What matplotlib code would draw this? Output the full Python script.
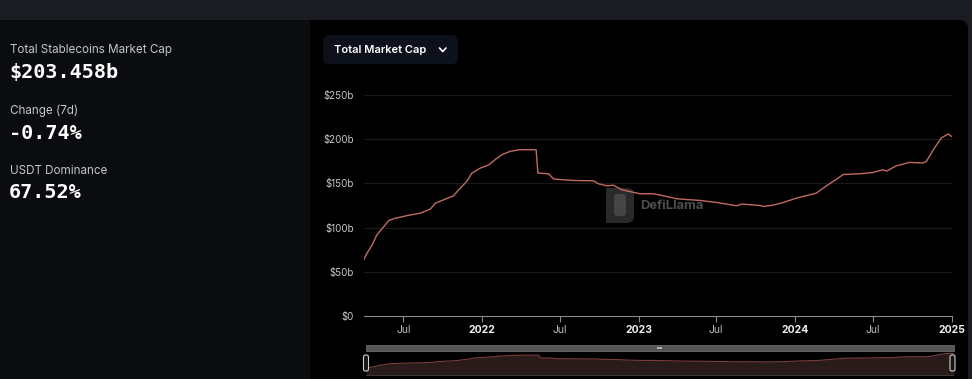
import matplotlib
matplotlib.use("Agg")
import matplotlib.pyplot as plt
from matplotlib.patches import Rectangle, FancyBboxPatch
from matplotlib.lines import Line2D
import pandas as pd

# ---------------- data ----------------
dates = ["2021-03-30", "2021-04-07", "2021-04-19", "2021-04-30", "2021-05-16", "2021-05-28",
         "2021-06-08", "2021-07-10", "2021-08-10", "2021-09-02", "2021-09-14", "2021-10-03",
         "2021-10-26", "2021-11-07", "2021-11-26", "2021-12-08", "2021-12-28", "2022-01-16",
         "2022-01-31", "2022-02-16", "2022-03-07", "2022-03-30", "2022-05-01", "2022-05-07",
         "2022-05-11", "2022-06-05", "2022-06-17", "2022-08-02", "2022-09-18", "2022-09-29",
         "2022-10-19", "2022-11-03", "2022-11-23", "2023-01-05", "2023-02-05", "2023-03-08",
         "2023-03-31", "2023-05-25", "2023-07-03", "2023-08-18", "2023-08-30", "2023-10-12",
         "2023-10-20", "2023-11-12", "2023-12-05", "2024-01-05", "2024-02-20", "2024-03-15",
         "2024-04-08", "2024-04-23", "2024-06-01", "2024-07-02", "2024-07-25", "2024-08-02",
         "2024-08-25", "2024-09-25", "2024-10-26", "2024-11-03", "2024-11-22", "2024-12-08",
         "2024-12-24", "2024-12-31"]
market_cap_b = [63.3, 70.9, 80.3, 91.7, 101.0, 108.0,
                110.0, 113.6, 116.4, 121.0, 127.7, 131.5,
                136.0, 142.8, 152.3, 161.8, 167.5, 171.0,
                177.0, 182.6, 186.4, 188.3, 188.3, 188.0,
                161.8, 161.0, 155.0, 153.4, 153.0, 149.7,
                147.4, 148.0, 142.8, 138.3, 138.3, 135.2,
                132.6, 130.7, 128.4, 124.7, 126.6, 125.0,
                123.9, 125.5, 128.4, 133.4, 139.0, 147.4,
                155.0, 160.2, 161.0, 162.5, 165.6, 164.0,
                170.0, 173.9, 173.2, 175.0, 190.2, 201.6,
                206.1, 203.5]

y_ticks = [0, 50, 100, 150, 200, 250]
y_tick_labels = ["$0", "$50b", "$100b", "$150b", "$200b", "$250b"]
x_ticks = ["2021-07-01", "2022-01-01", "2022-07-01", "2023-01-01", "2023-07-01",
           "2024-01-01", "2024-07-01", "2025-01-01"]
x_tick_labels = ["Jul", "2022", "Jul", "2023", "Jul", "2024", "Jul", "2025"]

stats_labels = ["Total Stablecoins Market Cap", "Change (7d)", "USDT Dominance"]
stats_values = ["$203.458b", "-0.74%", "67.52%"]

# ---------------- layout helpers ----------------
W, H = 972, 379
fig = plt.figure(figsize=(W / 100, H / 100), dpi=100)
fig.patch.set_facecolor("#1b1c21")

def fx(x):
    return x / W

def fy(y):
    return 1 - y / H

def rect(x0, y0, x1, y1, **kw):
    fig.patches.append(Rectangle((x0, H - y1), x1 - x0, y1 - y0, transform=None, **kw))

def rrect(x0, y0, x1, y1, r, **kw):
    fig.patches.append(FancyBboxPatch((x0, H - y1), x1 - x0, y1 - y0,
                                      boxstyle=f"round,pad=0,rounding_size={r}",
                                      transform=None, **kw))

# backgrounds
rect(0, 20, 310, 380, facecolor="#0a0c0f", edgecolor="none", zorder=-10)
rrect(310, 20, 968, 400, 9, facecolor="#000000", edgecolor="none", zorder=-10)
rect(310, 20, 330, 400, facecolor="#000000", edgecolor="none", zorder=-10)

# left stats
font_label = ["Inter", "DejaVu Sans"]
label_y = [50, 111, 171.5]
value_y = [72.5, 133.5, 193]
for lab, val, ly, vy in zip(stats_labels, stats_values, label_y, value_y):
    fig.text(fx(10), fy(ly), lab, color="#c4c6ca", fontsize=8.4, family=font_label,
             va="center", ha="left")
    fig.text(fx(9), fy(vy), val, color="#ffffff", fontsize=14.5, family="DejaVu Sans Mono",
             fontweight="bold", va="center", ha="left")

# dropdown
rrect(323, 35, 458, 64, 6, facecolor="#0d111c", edgecolor="none", zorder=-5)
fig.text(fx(334), fy(50), "Total Market Cap", color="#ffffff", fontsize=8, family=font_label,
         fontweight="semibold", va="center", ha="left")
fig.lines.append(Line2D([439.5, 442.7, 446], [H - 48, H - 51.5, H - 48],
                        transform=None, color="#ffffff", lw=1.2,
                        solid_capstyle="round", solid_joinstyle="round"))

# watermark (behind chart)
rrect(606, 188, 634, 223, 7, facecolor="#2a2a2a", edgecolor="none", zorder=-5)
rect(606, 188, 616, 223, facecolor="#2a2a2a", edgecolor="none", zorder=-5)
rrect(614, 194, 626, 216, 3, facecolor="#454545", edgecolor="none", zorder=-4)
fig.text(fx(640), fy(206), "DefiLlama", color="#4e4e4e", fontsize=9.3, family=font_label,
         fontweight="bold", va="center", ha="left", zorder=-4)

# ---------------- main chart ----------------
d = pd.to_datetime(dates)
xlim = (pd.Timestamp("2021-03-31"), pd.Timestamp("2025-01-02"))

ax_l, ax_r, ax_t, ax_b = 364, 952, 95.3, 315.7
ax = fig.add_axes([fx(ax_l), fy(ax_b), fx(ax_r - ax_l), (ax_b - ax_t) / H])
ax.set_zorder(2)
ax.set_facecolor("none")
ax.set_xlim(xlim)
ax.set_ylim(0, 250)

for yv in y_ticks[1:]:
    ax.axhline(yv, color="#1a1a1a", lw=0.8, zorder=1)
ax.plot(d, market_cap_b, color="#c26a60", lw=1.0, zorder=3)

for s in ["top", "right", "left"]:
    ax.spines[s].set_visible(False)
ax.spines["bottom"].set_color("#8a8a8a")
ax.spines["bottom"].set_linewidth(0.8)

ax.set_yticks(y_ticks)
ax.set_yticklabels(y_tick_labels)
ax.tick_params(axis="y", length=0, pad=7, labelsize=7, labelcolor="#c8c8c8")
for t in ax.get_yticklabels():
    t.set_family(font_label)

ax.set_xticks(pd.to_datetime(x_ticks))
ax.set_xticklabels(x_tick_labels)
ax.tick_params(axis="x", length=4, width=0.8, color="#8a8a8a", pad=2.5, labelsize=7.5)
for t in ax.get_xticklabels():
    t.set_family(font_label)
    if t.get_text() == "Jul":
        t.set_color("#bdbdbd")
    else:
        t.set_color("#f0f0f0")
        t.set_fontweight("bold")

# ---------------- range slider ----------------
rect(366, 345, 954, 351, facecolor="#555555", edgecolor="#6a6a6a", lw=0.6, zorder=3)
rect(657, 347, 662, 349, facecolor="#b0b0b0", edgecolor="none", zorder=4)

axm = fig.add_axes([fx(366), fy(375), fx(954 - 366), (375 - 351) / H])
axm.set_zorder(2)
axm.set_facecolor("none")
axm.set_xlim(d[0], d[-1])
axm.set_ylim(0, 228)
axm.fill_between(d, market_cap_b, 0, color="#2a1b1b", lw=0)
axm.plot(d, market_cap_b, color="#7a3e3e", lw=0.8)
axm.axis("off")
rect(366, 374.5, 954, 375.5, facecolor="#3a3a3a", edgecolor="none", zorder=3)

for hx in (366, 952.5):
    rrect(hx - 2.5, 355, hx + 2.5, 371, 2, facecolor="#151515", edgecolor="#cfcfcf",
          lw=0.8, zorder=5)

fig.savefig("out.png", dpi=100, facecolor=fig.get_facecolor())
